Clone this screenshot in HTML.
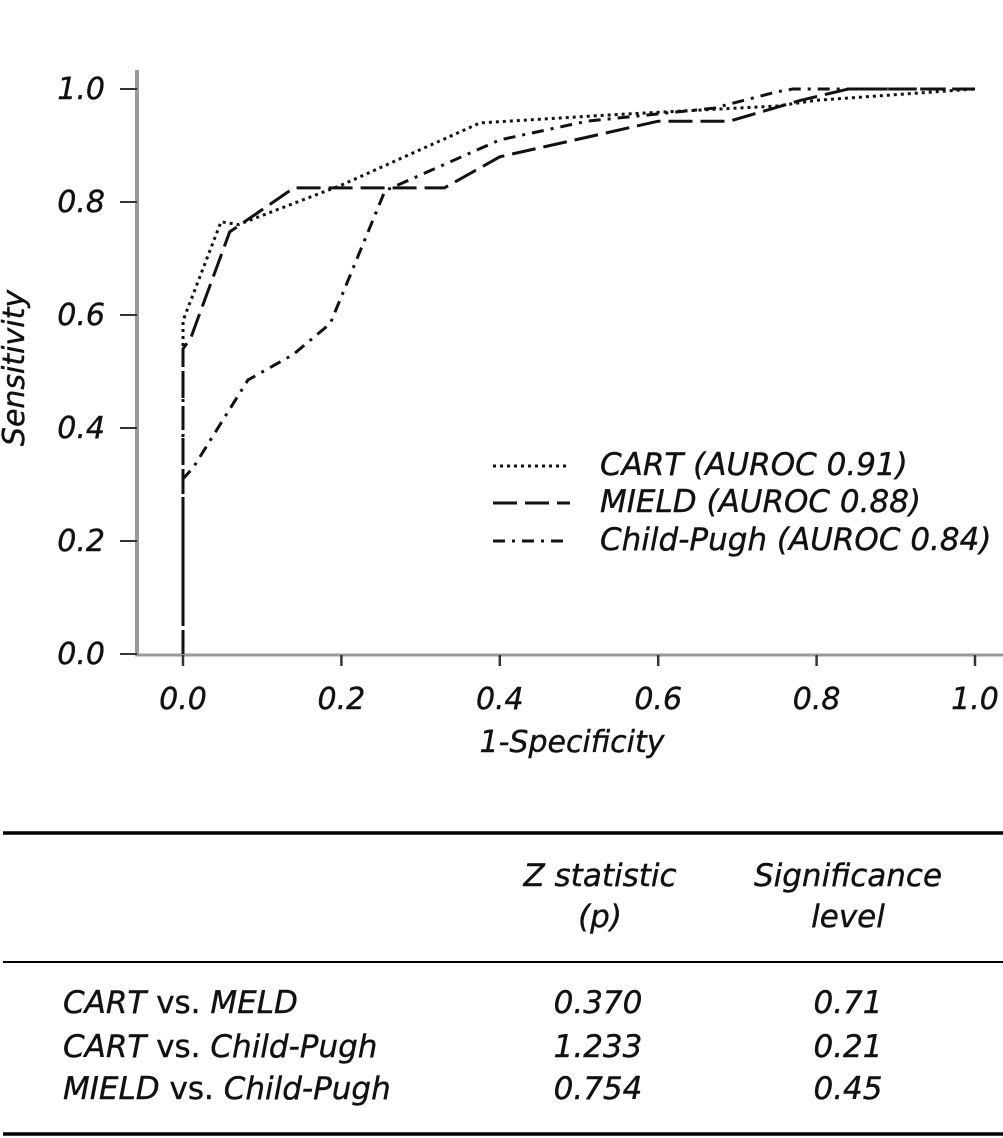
<!DOCTYPE html>
<html><head><meta charset="utf-8">
<style>
html,body{margin:0;padding:0;background:#fff;}
svg{display:block;}
text{font-family:"DejaVu Sans","Liberation Sans",sans-serif;font-style:italic;fill:#111;stroke:#111;stroke-width:0.4;}
</style></head>
<body>
<svg id="chart" width="1003" height="1138" viewBox="0 0 1003 1138" xmlns="http://www.w3.org/2000/svg">
  <g id="axes"></g>
  <g id="series"></g>
  <text transform="translate(24,368) rotate(-90)" text-anchor="middle" font-size="30">Sensitivity</text>
  <text x="572" y="752" text-anchor="middle" font-size="30">1-Specificity</text>
  <g>
    <line x1="493" y1="466" x2="570" y2="466" stroke="#111" stroke-width="3" stroke-dasharray="3,4"/>
    <text x="600" y="475" font-size="31">CART (AUROC 0.91)</text>
    <line x1="493" y1="503" x2="570" y2="503" stroke="#111" stroke-width="3" stroke-dasharray="24,8"/>
    <text x="600" y="512" font-size="31">MIELD (AUROC 0.88)</text>
    <line x1="493" y1="541" x2="570" y2="541" stroke="#111" stroke-width="3" stroke-dasharray="12,7,3,7"/>
    <text x="600" y="550" font-size="31">Child-Pugh (AUROC 0.84)</text>
  </g>
  <g font-size="31">
    <line x1="3" y1="833" x2="1003" y2="833" stroke="#000" stroke-width="3.5"/>
    <text x="600" y="886" text-anchor="middle">Z statistic</text>
    <text x="600" y="927" text-anchor="middle">(p)</text>
    <text x="848" y="886" text-anchor="middle">Significance</text>
    <text x="848" y="927" text-anchor="middle">level</text>
    <line x1="3" y1="962" x2="1003" y2="962" stroke="#000" stroke-width="2"/>
    <text x="63" y="1013">CART <tspan font-style="normal">vs.</tspan> MELD</text>
    <text x="598" y="1013" text-anchor="middle">0.370</text>
    <text x="848" y="1013" text-anchor="middle">0.71</text>
    <text x="63" y="1057">CART <tspan font-style="normal">vs.</tspan> Child-Pugh</text>
    <text x="598" y="1057" text-anchor="middle">1.233</text>
    <text x="848" y="1057" text-anchor="middle">0.21</text>
    <text x="63" y="1099">MIELD <tspan font-style="normal">vs.</tspan> Child-Pugh</text>
    <text x="598" y="1099" text-anchor="middle">0.754</text>
    <text x="848" y="1099" text-anchor="middle">0.45</text>
    <line x1="3" y1="1134" x2="1003" y2="1134" stroke="#000" stroke-width="3.5"/>
  </g>
</svg>
<script>
const xTicks = [0, 0.2, 0.4, 0.6, 0.8, 1.0];
const yTicks = [0, 0.2, 0.4, 0.6, 0.8, 1.0];
const cartX = [0, 0, 0.048, 0.07, 0.2, 0.375, 0.55, 0.75, 0.8, 1.0];
const cartY = [0, 0.59, 0.765, 0.76, 0.83, 0.94, 0.955, 0.97, 0.98, 1.0];
const mieldX = [0, 0, 0.01, 0.059, 0.14, 0.33, 0.4, 0.6, 0.69, 0.78, 0.84, 1.0];
const mieldY = [0, 0.54, 0.56, 0.747, 0.825, 0.825, 0.88, 0.943, 0.943, 0.98, 1.0, 1.0];
const cpX = [0, 0, 0.013, 0.082, 0.139, 0.186, 0.255, 0.40, 0.51, 0.67, 0.75, 0.77, 1.0];
const cpY = [0, 0.31, 0.33, 0.485, 0.53, 0.585, 0.82, 0.91, 0.943, 0.966, 0.995, 1.0, 1.0];

const X0 = 183, X1 = 975, Y0 = 654, Y1 = 89;
const sx = v => X0 + v * (X1 - X0);
const sy = v => Y0 - v * (Y0 - Y1);
const NS = "http://www.w3.org/2000/svg";
const axes = document.getElementById('axes');
const series = document.getElementById('series');
function mk(tag, attrs, parent){const e=document.createElementNS(NS,tag);for(const k in attrs)e.setAttribute(k,attrs[k]);parent.appendChild(e);return e;}

const yAxis = mk('line',{x1:137,y1:70,x2:137,y2:656,stroke:'#999','stroke-width':4},axes);


const xAxis = mk('line',{x1:135,y1:655,x2:1003,y2:655,stroke:'#999','stroke-width':3},axes);



yTicks.forEach(t=>{
  const y = sy(t);
  const tk = mk('line',{x1:120,y1:y,x2:137,y2:y,stroke:'#333','stroke-width':2},axes);
  
  
  const lb = mk('text',{x:105,y:y+10,'text-anchor':'end','font-size':30},axes);
  lb.textContent = t.toFixed(1);
  
  
});
xTicks.forEach(t=>{
  const x = sx(t);
  const tk = mk('line',{x1:x,y1:655,x2:x,y2:666,stroke:'#333','stroke-width':2.5},axes);
  
  
  const lb = mk('text',{x:x,y:709,'text-anchor':'middle','font-size':30},axes);
  lb.textContent = t.toFixed(1);
  
  
});

function line(xs, ys, dash, name){
  const pts = xs.map((x,i)=>sx(x).toFixed(1)+','+sy(ys[i]).toFixed(1)).join(' ');
  const p = mk('polyline',{points:pts,fill:'none',stroke:'#111','stroke-width':3,'stroke-dasharray':dash},series);
  
  
}
line(cpX, cpY, '12,7,3,7', 'childpugh-curve');
line(mieldX, mieldY, '24,8', 'mield-curve');
line(cartX, cartY, '3,4', 'cart-curve');
</script>
</body></html>
